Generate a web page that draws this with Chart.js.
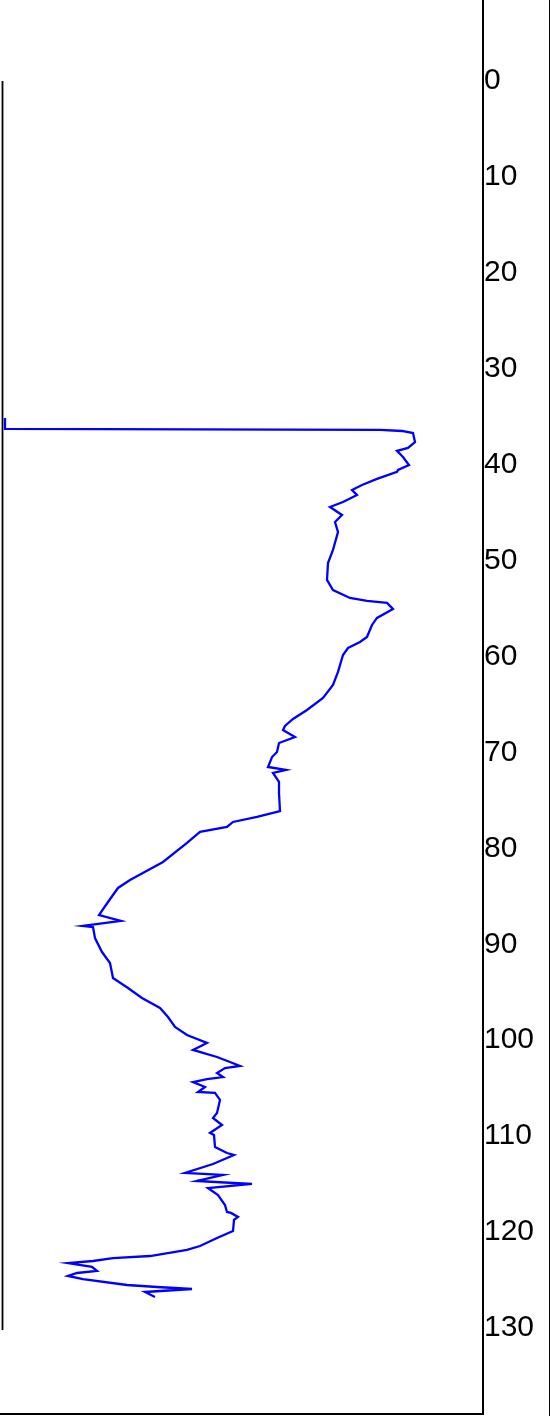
<!DOCTYPE html>
<html>
<head>
<meta charset="utf-8">
<script src="https://cdn.jsdelivr.net/npm/chart.js@4"></script>
<style>
  html, body { margin: 0; padding: 0; background: #fff; }
  #wrap { position: relative; width: 550px; height: 1416px; box-sizing: border-box; border-right: 1px solid #000; }
  #c { display: block; }
</style>
</head>
<body>
<div id="wrap"><canvas id="c" width="549" height="1416"></canvas></div>
<script>
// Tick labels of the (inverted) depth axis
const depthTicks = [0, 10, 20, 30, 40, 50, 60, 70, 80, 90, 100, 110, 120, 130];

// Blue log curve: depth (y) and reading (x, arbitrary units)
const curveDepth = [
  35.13, 36.28, 36.38, 36.49, 36.70, 37.64, 38.26, 38.57, 39.20, 40.03,
  40.55, 40.76, 41.49, 42.12, 42.64, 43.16, 43.89, 44.41, 45.25, 45.98,
  47.02, 48.89, 50.25, 52.02, 53.07, 53.90, 54.21, 54.42, 55.05, 55.98,
  56.71, 57.96, 58.49, 59.11, 59.84, 61.61, 62.97, 64.32, 65.58, 66.51,
  67.24, 67.66, 68.39, 69.02, 69.95, 70.48, 71.52, 71.83, 72.14, 73.08,
  74.23, 76.11, 76.73, 77.25, 77.77, 78.29, 79.44, 81.42, 83.30, 84.13,
  85.59, 86.95, 87.57, 88.09, 88.20, 89.35, 90.81, 91.95, 93.52, 94.56,
  95.60, 96.64, 97.58, 98.62, 99.46, 100.29, 101.02, 101.33, 101.75, 102.27,
  102.69, 102.90, 103.42, 103.84, 104.05, 104.36, 104.88, 105.40, 105.50, 106.23,
  107.59, 108.11, 108.84, 109.67, 109.88, 111.13, 111.76, 111.97, 112.91, 113.84,
  114.05, 114.68, 114.99, 115.41, 116.14, 117.18, 117.91, 118.01, 118.43, 118.74,
  119.89, 120.62, 121.46, 121.87, 122.50, 122.71, 123.02, 123.23, 123.64, 124.06,
  124.27, 124.58, 124.90, 125.52, 125.73, 125.94, 126.25, 126.77
];
const curveReading = [
  5, 5, 380, 402, 413, 415, 408, 397, 403, 409,
  398, 397, 377, 362, 352, 357, 343, 330, 342, 335,
  338, 333, 328, 327, 333, 350, 367, 387, 393, 377,
  372, 367, 360, 348, 343, 338, 333, 323, 307, 293,
  285, 283, 295, 279, 277, 272, 268, 286, 273, 279,
  279, 280, 257, 233, 227, 200, 187, 163, 130, 118,
  108, 99, 121, 83, 93, 95, 102, 110, 113, 128,
  142, 160, 168, 175, 187, 207, 193, 203, 217, 230,
  240, 225, 217, 223, 207, 193, 205, 198, 215, 220,
  217, 213, 222, 210, 214, 215, 227, 234, 213, 185,
  223, 197, 252, 208, 218, 225, 227, 231, 238, 234,
  233, 217, 200, 187, 150, 113, 93, 68, 92, 97,
  77, 68, 83, 127, 157, 192, 145, 155
];

// Black reference line at the left edge
const baseDepth = [0, 130.2];
const baseReading = [2.5, 2.5];

const toPoints = (xs, ys) => xs.map((x, i) => ({ x: x, y: ys[i] }));

new Chart(document.getElementById('c'), {
  type: 'scatter',
  data: {
    datasets: [
      {
        data: toPoints(baseReading, baseDepth),
        showLine: true,
        borderColor: '#000',
        borderWidth: 1.8,
        pointRadius: 0,
        tension: 0
      },
      {
        data: toPoints(curveReading, curveDepth),
        showLine: true,
        borderColor: '#0000ff',
        borderWidth: 2.3,
        pointRadius: 0,
        tension: 0
      }
    ]
  },
  options: {
    responsive: false,
    animation: false,
    events: [],
    layout: { padding: { left: 0, top: 0, right: 0, bottom: 2 } },
    plugins: { legend: { display: false }, tooltip: { enabled: false } },
    scales: {
      x: {
        type: 'linear',
        min: 0,
        max: 483,
        grid: { display: false, drawTicks: false },
        ticks: { display: false },
        border: { display: true, color: '#000', width: 2 }
      },
      y: {
        type: 'linear',
        position: 'right',
        reverse: true,
        min: -8.44,
        max: 138.97,
        grid: { display: false, drawTicks: false },
        border: { display: true, color: '#000', width: 2 },
        afterBuildTicks: (scale) => { scale.ticks = depthTicks.map(v => ({ value: v })); },
        afterFit: (scale) => { scale.width = 66; scale.paddingTop = 0; scale.paddingBottom = 0; },
        ticks: {
          padding: 1,
          color: '#000',
          font: { family: '"Liberation Sans", Arial, sans-serif', size: 30 }
        }
      }
    }
  }
});
</script>
</body>
</html>
